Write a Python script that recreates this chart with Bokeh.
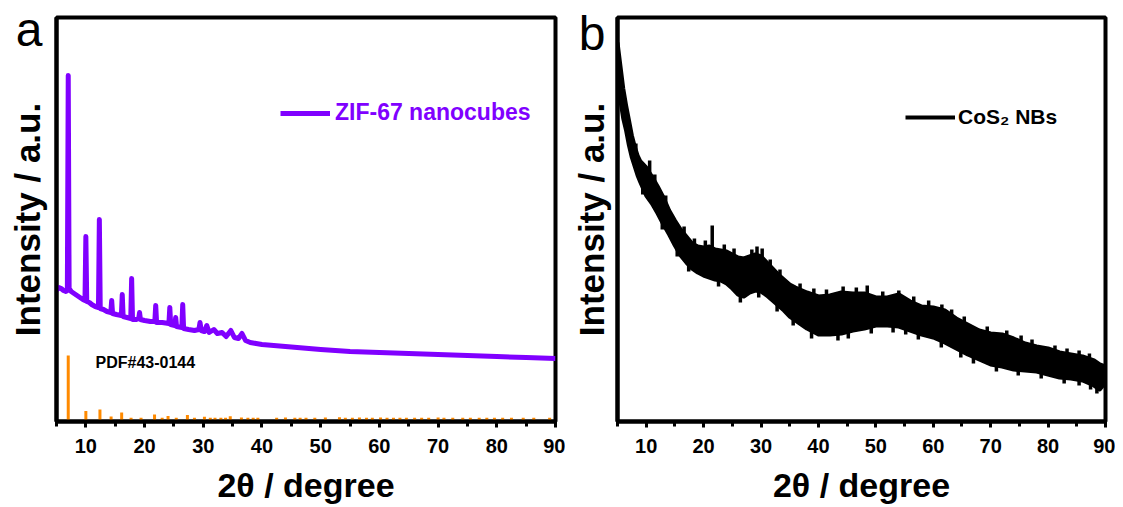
from bokeh.plotting import figure
from bokeh.layouts import row
from bokeh.models import Range1d, FixedTicker, Label, Legend, LegendItem
from bokeh.embed import file_html
from bokeh.resources import INLINE

FONT = "Liberation Sans"
PURPLE = "#8000FF"
ORANGE = "#FF8A00"

# ---------------- Panel a: ZIF-67 nanocubes ----------------
zif_x = [5.0, 5.4, 5.8, 6.2, 6.6, 6.85, 7.0, 7.15, 7.5, 8.0, 8.5, 9.0, 9.5, 9.85, 10.0, 10.15,
         10.6, 11.0, 11.6, 12.15, 12.3, 12.45, 13.0, 13.6, 14.25, 14.4, 14.55, 15.2, 16.05, 16.2,
         16.35, 17.0, 17.65, 17.8, 17.95, 18.6, 19.0, 19.15, 19.3, 20.0, 21.0, 21.75, 21.9, 22.05,
         23.0, 24.15, 24.3, 24.45, 25.15, 25.3, 25.45, 26.35, 26.5, 26.65, 27.5, 28.5, 29.25,
         29.45, 29.65, 30.2, 30.6, 31.0, 31.8, 32.4, 33.2, 33.9, 34.7, 35.3, 36.0, 36.6, 37.2,
         38.0, 39.0, 40.0, 42.0, 44.0, 46.0, 48.0, 50.0, 52.5, 55.0, 60.0, 65.0, 70.0, 75.0,
         80.0, 85.0, 90.0]
zif_y = [1330, 1360, 1350, 1330, 1320, 1330, 3480, 1350, 1320, 1300, 1280, 1260, 1240, 1230, 1870, 1220,
         1210, 1190, 1170, 1160, 2040, 1150, 1140, 1120, 1110, 1230, 1100, 1090, 1080, 1290,
         1070, 1060, 1050, 1450, 1040, 1040, 1050, 1110, 1040, 1030, 1020, 1020, 1180, 1010,
         1010, 1000, 1160, 990, 980, 1060, 970, 960, 1190, 950, 940, 930, 940,
         1010, 930, 920, 980, 910, 940, 900, 910, 870, 930, 860, 850, 900, 830,
         810, 800, 790, 780, 770, 760, 750, 740, 730, 720, 710, 700, 690, 680,
         670, 660, 650]

pdf_x = [7.0, 10.0, 12.4, 14.3, 16.1, 17.7, 19.4, 21.7, 23.0, 24.0, 25.4, 27.3, 28.5, 30.2, 31.2,
         32.0, 33.0, 33.8, 34.6, 36.5, 37.6, 38.5, 39.3, 42.5, 44.0, 45.6, 46.5, 47.5, 49.0,
         50.8, 53.2, 54.2, 55.4, 56.6, 57.8, 58.8, 60.2, 61.3, 62.4, 63.5, 64.6, 66.0, 67.2,
         68.4, 70.0, 71.0, 72.5, 74.2, 75.5, 77.0, 78.3, 79.6, 81.0, 82.5, 84.5, 86.3, 89.0]
pdf_h = [680, 125, 140, 70, 110, 58, 58, 90, 58, 75, 58, 85, 58, 68, 58,
         58, 58, 58, 72, 60, 58, 58, 58, 58, 60, 58, 58, 58, 58,
         60, 62, 58, 58, 60, 58, 58, 60, 58, 58, 58, 58, 58, 58,
         58, 60, 58, 58, 58, 58, 58, 58, 58, 58, 58, 58, 58, 58]

# ---------------- Panel b: CoS2 NBs (noisy band, read as envelope) ----------------
cos_x = [5, 5.5, 6, 6.5, 7, 7.5, 8, 8.5, 9, 10, 11, 12, 13, 14, 15, 16, 17, 18, 19, 20, 21, 22,
         23, 24, 25, 26, 27, 28, 29, 30, 31, 32, 33, 34, 35, 36, 38, 40, 42, 44, 46, 48, 50,
         52, 54, 56, 58, 60, 62, 64, 66, 68, 70, 72, 74, 76, 78, 80, 82, 84, 86, 88, 89, 90]
cos_upper = [3760, 3530, 3300, 3130, 2980, 2830, 2720, 2630, 2570, 2510, 2420, 2320, 2210, 2080,
             1980, 1890, 1820, 1750, 1720, 1710, 1720, 1690, 1680, 1670, 1640, 1610, 1600, 1620,
             1640, 1620, 1560, 1500, 1440, 1390, 1340, 1310, 1260, 1220, 1230, 1260, 1250, 1250,
             1210, 1210, 1240, 1170, 1120, 1110, 1080, 1000, 940, 880, 850, 840, 800, 750, 720,
             700, 660, 640, 620, 580, 540, 520]
cos_lower = [3430, 3180, 3000, 2880, 2730, 2610, 2520, 2430, 2360, 2230, 2150, 2050, 1940, 1840,
             1730, 1630, 1560, 1500, 1460, 1430, 1410, 1390, 1380, 1350, 1300, 1240, 1220, 1260,
             1280, 1270, 1230, 1180, 1130, 1080, 1020, 980, 900, 840, 840, 850, 880, 900,
             930, 930, 920, 880, 840, 810, 760, 700, 640, 590, 540, 520, 490, 480, 470,
             440, 410, 400, 380, 330, 290, 360]
# upward noise spikes (position, tip)
up_x = [8.2, 10.6, 11.5, 13.4, 16.6, 18.4, 20.3, 21.5, 23.6, 25.3, 28.4, 29.3, 30.2, 31.6, 33.3,
        36.8, 39.2, 41.4, 44.3, 46.6, 48.5, 51.2, 54.0, 56.6, 59.2, 61.5, 63.2, 65.4, 69.4,
        72.8, 75.3, 77.2, 81.2, 83.3, 85.4, 87.2]
up_tip = [2750, 2580, 2440, 2230, 1920, 1800, 1780, 1930, 1740, 1700, 1690, 1720, 1700, 1590, 1490,
          1350, 1300, 1290, 1320, 1310, 1330, 1270, 1280, 1220, 1180, 1140, 1090, 1020, 920,
          880, 830, 790, 730, 700, 680, 650]
# downward noise spikes (position, tip)
dn_x = [9.4, 12.8, 15.4, 17.4, 22.6, 26.4, 29.6, 32.8, 35.6, 38.8, 43.4, 45.2, 49.2, 53.0,
        55.2, 57.4, 61.4, 64.8, 67.0, 71.0, 74.8, 78.8, 82.8, 85.4, 87.4, 88.5]
dn_tip = [2240, 1890, 1620, 1470, 1320, 1160, 1210, 1070, 930, 800, 780, 800, 850, 860,
          840, 790, 710, 610, 550, 470, 430, 400, 350, 330, 290, 250]

x_ticks = [10, 20, 30, 40, 50, 60, 70, 80, 90]
x_minor = [5, 15, 25, 35, 45, 55, 65, 75, 85]


def style(p, letter, letter_y, letter_standoff, ylabel_standoff):
    p.outline_line_color = "black"
    p.outline_line_width = 4
    p.xgrid.visible = False
    p.ygrid.visible = False
    xa = p.xaxis[0]
    xa.ticker = FixedTicker(ticks=x_ticks, minor_ticks=x_minor)
    xa.axis_line_width = 4
    xa.major_tick_line_width = 3
    xa.minor_tick_line_width = 3
    xa.major_tick_out = 6
    xa.major_tick_in = 0
    xa.minor_tick_out = 5
    xa.minor_tick_in = 0
    xa.major_label_text_font = FONT
    xa.major_label_text_font_style = "bold"
    xa.major_label_text_font_size = "20px"
    xa.major_label_text_color = "black"
    xa.major_label_standoff = 11
    xa.axis_label = "2\u03b8 / degree"
    xa.axis_label_text_font = FONT
    xa.axis_label_text_font_style = "bold"
    xa.axis_label_text_font_size = "34px"
    xa.axis_label_text_color = "black"
    xa.axis_label_standoff = 10
    ya = p.yaxis[0]
    # panel letter shown as the single (horizontal) tick label at the top of the y axis
    ya.ticker = FixedTicker(ticks=[letter_y])
    ya.major_label_overrides = {letter_y: letter}
    ya.major_label_orientation = "horizontal"
    ya.major_label_text_font = FONT
    ya.major_label_text_font_size = "48px"
    ya.major_label_text_color = "black"
    ya.major_label_standoff = letter_standoff
    ya.axis_line_width = 4
    ya.major_tick_out = 0
    ya.major_tick_in = 0
    ya.minor_tick_out = 0
    ya.minor_tick_in = 0
    ya.axis_label = "Intensity / a.u."
    ya.axis_label_text_font = FONT
    ya.axis_label_text_font_style = "bold"
    ya.axis_label_text_font_size = "35px"
    ya.axis_label_text_color = "black"
    ya.axis_label_standoff = ylabel_standoff


# ---- figure a ----
pa = figure(width=565, height=506, output_backend="svg", toolbar_location=None,
            x_range=Range1d(5, 90), y_range=Range1d(20, 4060),
            min_border_left=56, min_border_right=10, min_border_top=17, min_border_bottom=85)
style(pa, "a", 3945, 14, -34)
pa.segment(x0=pdf_x, y0=[0] * len(pdf_x), x1=pdf_x, y1=pdf_h, line_color=ORANGE, line_width=3)
line_a = pa.line(zif_x, zif_y, line_color=PURPLE, line_width=5, line_join="round")
leg_a = Legend(items=[LegendItem(label="ZIF-67 nanocubes", renderers=[line_a])],
               location=(224, 295), label_text_font=FONT, label_text_font_style="bold",
               label_text_font_size="23px", label_text_color=PURPLE, glyph_width=50,
               glyph_height=20, label_standoff=5, padding=0, margin=0, spacing=0,
               border_line_alpha=0, background_fill_alpha=0)
pa.add_layout(leg_a)
pa.add_layout(Label(x=39, y=59, x_units="screen", y_units="screen", text="PDF#43-0144",
                    text_font=FONT, text_font_style="bold", text_font_size="16px",
                    text_color="black", text_baseline="middle", text_align="left"))

# ---- figure b ----
pb = figure(width=550, height=506, output_backend="svg", toolbar_location=None,
            x_range=Range1d(5, 90), y_range=Range1d(-30, 4010),
            min_border_left=52, min_border_right=10, min_border_top=17, min_border_bottom=85)
style(pb, "b", 3850, 12, -35)
pb.varea(x=cos_x, y1=cos_lower, y2=cos_upper, fill_color="black")
upper_b = pb.line(cos_x, cos_upper, line_color="black", line_width=4, line_join="round")
pb.line(cos_x, cos_lower, line_color="black", line_width=4, line_join="round")
pb.segment(x0=up_x, y0=[t - 220 for t in up_tip], x1=up_x, y1=up_tip,
           line_color="black", line_width=3.5)
pb.segment(x0=dn_x, y0=[t + 220 for t in dn_tip], x1=dn_x, y1=dn_tip,
           line_color="black", line_width=3.5)
leg_b = Legend(items=[LegendItem(label="CoS\u2082 NBs", renderers=[upper_b])],
               location=(288, 292), label_text_font=FONT, label_text_font_style="bold",
               label_text_font_size="21px", label_text_color="black", glyph_width=50,
               glyph_height=20, label_standoff=3, padding=0, margin=0, spacing=0,
               border_line_alpha=0, background_fill_alpha=0)
pb.add_layout(leg_b)

layout = row(pa, pb)
open("out.html", "w").write(file_html(layout, INLINE))
